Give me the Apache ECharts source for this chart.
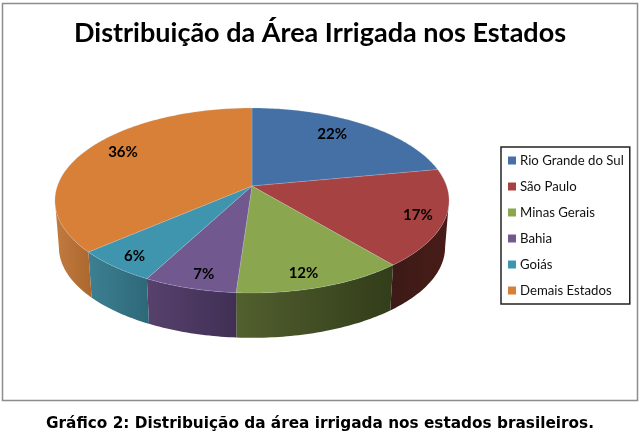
<!DOCTYPE html>
<html><head><meta charset="utf-8">
<style>html,body{margin:0;padding:0;background:#fff}#c{width:640px;height:434px}</style>
<script src="https://cdn.jsdelivr.net/npm/echarts@6/dist/echarts.min.js"></script>
</head><body><div id="c"></div>
<script>
const categories = ['Rio Grande do Sul','São Paulo','Minas Gerais','Bahia','Goiás','Demais Estados'];
const shares = [22,17,12.1,6.6,5.9,36.4];
const chartTitle = 'Distribuição da Área Irrigada nos Estados';
const caption = 'Gráfico 2: Distribuição da área irrigada nos estados brasileiros.';

const topColors = ['#4470a5','#a64241','#8aa64e','#71588f','#3f95ae','#d87f38'];
const sideColors = [['#2c4a70','#2c4a70'],['#3c1a17','#481c18'],['#525f2e','#323d1a'],['#57416d','#402f55'],['#3c8092','#2d6878'],['#c37b3e','#ab672f']];
const labelRadius = [.778,.868,.87,.874,.881,.81];
const labelTurn = [-4,1,2.5,-1.6,-.7,5.1];

const cx=252, cy=186, persp=.1568, ampY=90.2, ampX=194.6, rimScale=.98, rimDrop=47;
const total = shares.reduce((a,b)=>a+b,0);
const rad = d=>d*Math.PI/180;
function project(deg,r){
  const u=r*Math.sin(rad(deg)), v=r*Math.cos(rad(deg)), den=1+persp*v;
  return [ampX*u/den, -ampY*v/den];
}
function pt(deg,r){const p=project(deg,r);return [cx+p[0],cy+p[1]];}
function rim(deg){const p=project(deg,1);return [cx+p[0]*rimScale,cy+p[1]*rimScale+rimDrop];}
function arc(a,b,f){const o=[];const n=Math.max(2,Math.ceil(b-a));for(let i=0;i<=n;i++)o.push(f(a+(b-a)*i/n));return o;}

function renderSlice(idx){
  return function(params,api){
    const before=shares.slice(0,idx).reduce((a,b)=>a+b,0);
    const value=api.value(0);
    const a0=before/total*360, a1=(before+value)/total*360;
    const kids=[];
    const limit=Math.acos(-persp)*180/Math.PI;
    const s=Math.max(a0,limit), e=Math.min(a1,360-limit);
    if(s<e){
      const upper=arc(s,e,d=>pt(d,1)), lower=arc(s,e,rim).reverse();
      kids.push({type:'polygon',z2:1,shape:{points:upper.concat(lower)},
        style:{fill:{type:'linear',x:0,y:0,x2:1,y2:0,colorStops:[{offset:0,color:sideColors[idx][0]},{offset:1,color:sideColors[idx][1]}]}}});
    }
    kids.push({type:'polygon',z2:10,shape:{points:[[cx,cy]].concat(arc(a0,a1,d=>pt(d,1)))},
      style:{fill:topColors[idx],stroke:'rgba(205,220,235,.35)',lineWidth:.6}});
    const lp=pt((a0+a1)/2+labelTurn[idx],labelRadius[idx]);
    kids.push({type:'text',z2:20,x:lp[0],y:lp[1],
      style:{text:Math.round(value/total*100)+'%',fill:'#000',align:'center',verticalAlign:'middle',
        font:'bold 15px Lato'}});
    return {type:'group',children:kids};
  };
}

const chart=echarts.init(document.getElementById('c'),null,{renderer:'canvas'});
chart.setOption({
  animation:false,
  backgroundColor:'#fff',
  title:[
    {text:chartTitle,left:315,top:15,textAlign:'center',textStyle:{fontFamily:'Lato',fontWeight:'bold',fontSize:27,color:'#000'}},
    {text:caption,left:315,top:412,textAlign:'center',textStyle:{fontFamily:'DejaVu Sans',fontWeight:'bold',fontSize:15.3,color:'#000'}}
  ],
  legend:{
    show:true,orient:'vertical',left:501,top:147,width:130,
    data:categories,icon:'rect',itemWidth:8,itemHeight:8,itemGap:13,selectedMode:false,
    padding:[7,6,7,7],borderColor:'#222',borderWidth:1.5,backgroundColor:'#fff',
    textStyle:{fontFamily:'Lato',fontSize:13.2,color:'#111',padding:[0,0,0,-1]}
  },
  graphic:[{type:'rect',z:-1,silent:true,shape:{x:2.5,y:3.5,width:635,height:397},style:{fill:'#fff',stroke:'#8c8c8c',lineWidth:1.5}}],
  series:categories.map((name,i)=>({
    type:'custom',name,coordinateSystem:'none',renderItem:renderSlice(i),
    data:[[shares[i]]],itemStyle:{color:topColors[i]},silent:true
  }))
});
</script></body></html>
